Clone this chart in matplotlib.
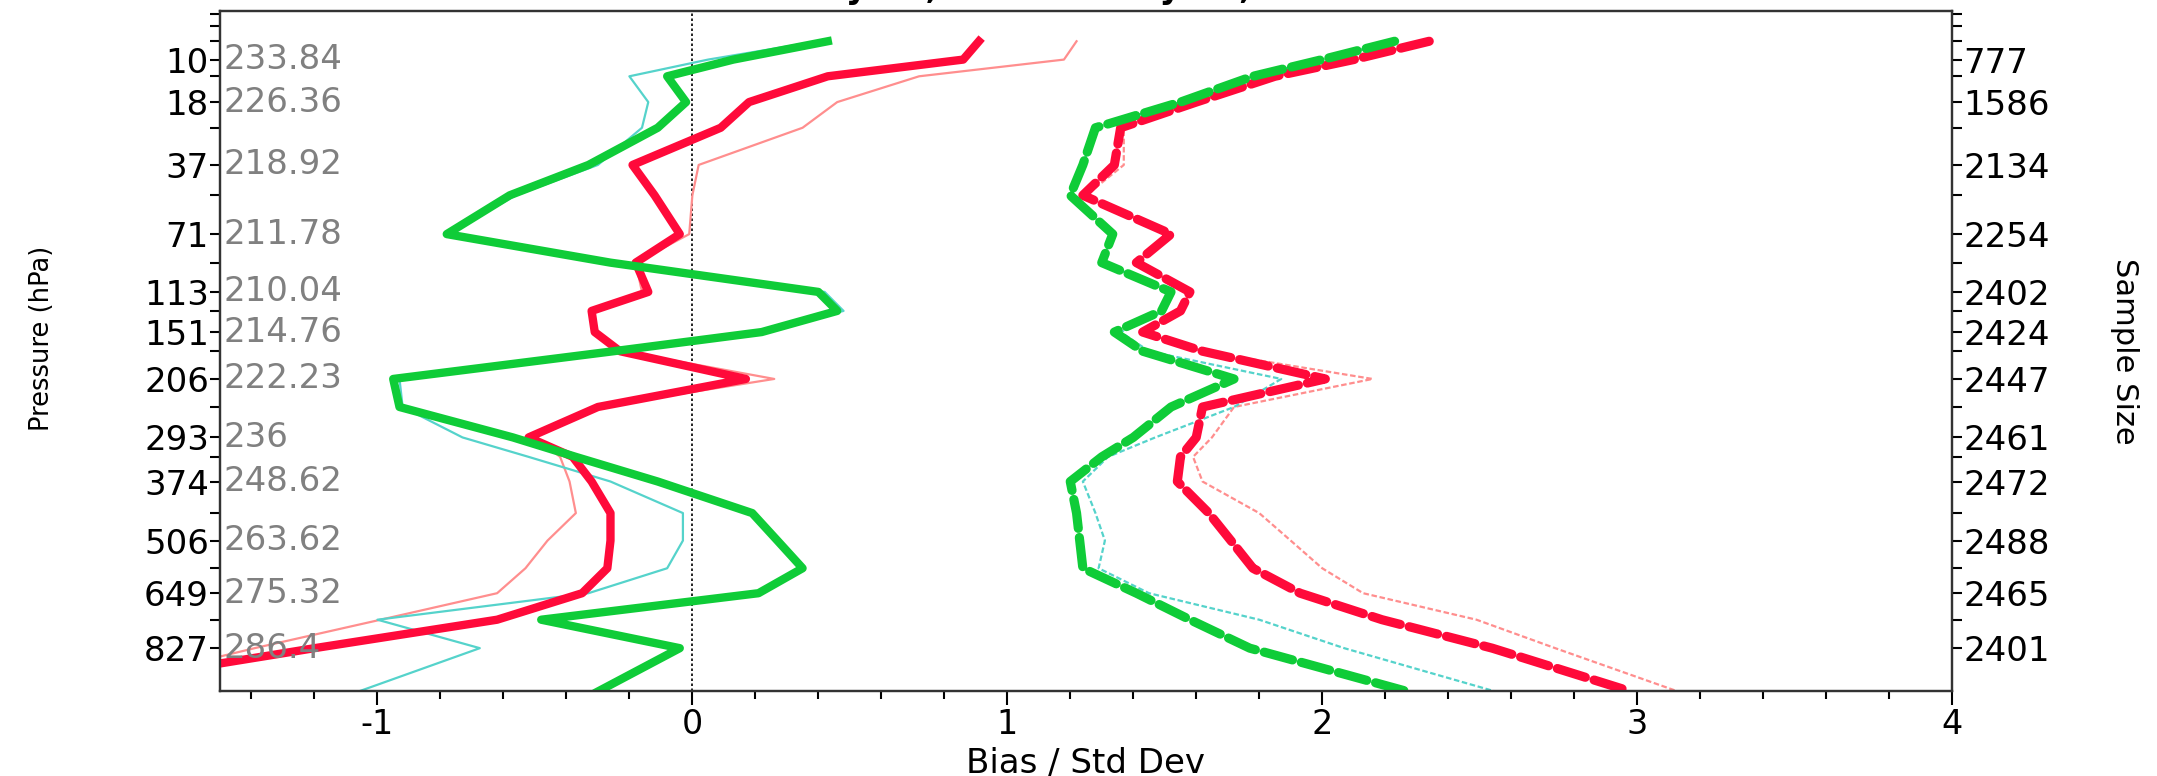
import numpy as np
import matplotlib
matplotlib.use("Agg")
import matplotlib.pyplot as plt
from matplotlib.transforms import blended_transform_factory

plt.rcParams['font.family'] = ['DejaVu Sans']

# ---------------- data ----------------
levels = [7.5, 10, 12.75, 18, 24.6, 37, 50, 71, 90, 113, 130, 151, 172, 206,
          245, 293, 327, 374, 441, 506, 578, 649, 731, 827, 990]

label_levels = [10, 18, 37, 71, 113, 151, 206, 293, 374, 506, 649, 827]
minor_levels = [4.7, 5.75, 7.5, 12.75, 24.6, 50, 90, 130, 172, 245, 327, 441, 578, 731]
temps = ['233.84', '226.36', '218.92', '211.78', '210.04', '214.76', '222.23',
         '236', '248.62', '263.62', '275.32', '286.4']
samples = ['777', '1586', '2134', '2254', '2402', '2424', '2447', '2461',
           '2472', '2488', '2465', '2401']

green_bias = [0.43, 0.13, -0.08, -0.02, -0.11, -0.33, -0.58, -0.78, -0.26, 0.40, 0.46, 0.22, -0.25,
              -0.95, -0.93, -0.57, -0.37, -0.11, 0.19, 0.27, 0.35, 0.21, -0.48, -0.04, -0.30]
red_bias = [0.91, 0.86, 0.43, 0.18, 0.09, -0.19, -0.12, -0.04, -0.18, -0.14, -0.32, -0.31, -0.23,
            0.17, -0.30, -0.52, -0.38, -0.32, -0.26, -0.26, -0.27, -0.35, -0.62, -1.20, -2.05]
pink_bias = [1.22, 1.18, 0.72, 0.46, 0.35, 0.02, 0.0, -0.01, -0.18, -0.16, -0.32, -0.30, -0.22,
             0.26, -0.30, -0.50, -0.42, -0.39, -0.37, -0.46, -0.53, -0.62, -0.99, -1.39, -1.96]
cyan_bias = [0.40, 0.05, -0.20, -0.14, -0.16, -0.30, -0.56, -0.78, -0.26, 0.42, 0.48, 0.22, -0.25,
             -0.93, -0.92, -0.73, -0.52, -0.26, -0.03, -0.03, -0.08, -0.33, -1.00, -0.675, -1.06]

green_std = [2.23, 2.00, 1.78, 1.55, 1.28, 1.24, 1.20, 1.335, 1.30, 1.52, 1.49, 1.34, 1.43,
             1.72, 1.52, 1.40, 1.30, 1.20, 1.22, 1.23, 1.24, 1.41, 1.58, 1.77, 2.27]
red_std = [2.34, 2.10, 1.85, 1.60, 1.36, 1.34, 1.24, 1.52, 1.41, 1.58, 1.55, 1.43, 1.62,
           2.01, 1.62, 1.60, 1.55, 1.54, 1.64, 1.71, 1.78, 1.93, 2.19, 2.54, 2.98]
pink_std = [2.34, 2.10, 1.85, 1.60, 1.37, 1.37, 1.25, 1.52, 1.41, 1.58, 1.55, 1.43, 1.62,
            2.16, 1.72, 1.65, 1.59, 1.62, 1.80, 1.90, 2.00, 2.13, 2.49, 2.74, 3.13]
cyan_std = [2.23, 2.00, 1.78, 1.55, 1.28, 1.24, 1.20, 1.335, 1.30, 1.53, 1.50, 1.36, 1.45,
            1.87, 1.72, 1.47, 1.32, 1.24, 1.28, 1.31, 1.29, 1.45, 1.80, 2.07, 2.55]

title_text = 'May 15, 2020 to May 21, 2020'

# ---------------- style ----------------
GREEN = '#0fcc38'
RED = '#ff0a3a'
PINK = '#ff8e8e'
CYAN = '#55d3cb'
GRAY = '#808080'
K = 0.286


def fwd(p):
    return np.power(np.clip(np.asarray(p, dtype=float), 1e-6, None), K)


def inv(v):
    return np.power(np.clip(np.asarray(v, dtype=float), 1e-6, None), 1.0 / K)


W, H = 2157, 776
fig = plt.figure(figsize=(W / 100, H / 100), dpi=100)
L, R, T, B = 220, 1952, 11, 691
ax = fig.add_axes([L / W, 1 - B / H, (R - L) / W, (B - T) / H])
ax.set_yscale('function', functions=(fwd, inv))
ylim = (988, 4.4)
ax.set_ylim(*ylim)
ax.set_xlim(-1.5, 4)

# lines
thin_lw, thick_lw = 1.6, 6.0
ax.axvline(0, color='black', lw=1.2, ls=(0, (1.5, 1.5)), zorder=1)
ax.plot(pink_bias, levels, color=PINK, lw=thin_lw, zorder=2)
ax.plot(pink_std, levels, color=PINK, lw=thin_lw, ls=(0, (2.5, 1.2)), zorder=2)
ax.plot(cyan_bias, levels, color=CYAN, lw=thin_lw, zorder=2.1)
ax.plot(cyan_std, levels, color=CYAN, lw=thin_lw, ls=(0, (2.5, 1.2)), zorder=2.1)
ax.plot(red_bias, levels, color=RED, lw=thick_lw, zorder=3, solid_joinstyle='round')
ax.plot(red_std, levels, color=RED, lw=thick_lw + 0.6, ls=(0, (3.2, 1.0)), zorder=3,
        dash_capstyle='round', dash_joinstyle='round')
ax.plot(green_bias, levels, color=GREEN, lw=thick_lw, zorder=4, solid_joinstyle='round')
ax.plot(green_std, levels, color=GREEN, lw=thick_lw + 0.6, ls=(0, (3.2, 1.0)), zorder=4,
        dash_capstyle='round', dash_joinstyle='round')

TICK_FS = 24.5

# y ticks
ax.set_yticks(label_levels)
ax.set_yticklabels([str(v) for v in label_levels])
ax.set_yticks(minor_levels, minor=True)
ax.yaxis.set_minor_formatter(matplotlib.ticker.NullFormatter())
ax.tick_params(axis='y', which='both', length=7, width=1.5, direction='out', pad=1,
               labelsize=TICK_FS, colors='black')

# x ticks
ax.set_xticks([-1, 0, 1, 2, 3, 4])
ax.set_xticklabels(['-1', '0', '1', '2', '3', '4'])
ax.set_xticks(np.arange(-1.4, 4.0, 0.2), minor=True)
ax.tick_params(axis='x', which='major', length=10, width=1.5, direction='out', pad=2,
               labelsize=24)
ax.tick_params(axis='x', which='minor', length=6, width=1.5, direction='out')

for s in ax.spines.values():
    s.set_linewidth(1.6)
    s.set_color('#333333')

# temperature labels inside
trans = blended_transform_factory(ax.transAxes, ax.transData)
for p, t in zip(label_levels, temps):
    ax.text(0.002, p, t, transform=trans, ha='left', va='center', fontsize=TICK_FS,
            color=GRAY, zorder=5)

# right axis
ax2 = ax.twinx()
ax2.set_yscale('function', functions=(fwd, inv))
ax2.set_ylim(*ylim)
ax2.set_yticks(label_levels)
ax2.set_yticklabels(samples)
ax2.set_yticks(minor_levels, minor=True)
ax2.yaxis.set_minor_formatter(matplotlib.ticker.NullFormatter())
ax2.tick_params(axis='y', which='both', length=7, width=1.5, direction='out', pad=1,
                labelsize=TICK_FS)
for s in ax2.spines.values():
    s.set_linewidth(1.6)
    s.set_color('#333333')

# axis labels
fig.text(42 / W, 1 - 338 / H, 'Pressure (hPa)', rotation=90, ha='center', va='center',
         fontsize=18.5)
fig.text(2125 / W, 1 - 351 / H, 'Sample Size', rotation=270, ha='center', va='center',
         fontsize=22)
fig.text(1086 / W, 1 - 773 / H, 'Bias / Std Dev', ha='center', va='baseline', fontsize=24.5)

# title (mostly cut off at the top edge, as in the reference)
fig.text(791 / W, 1.003, title_text, ha='left', va='baseline', fontsize=24,
         fontweight='bold')

fig.savefig('out.png', dpi=100)
